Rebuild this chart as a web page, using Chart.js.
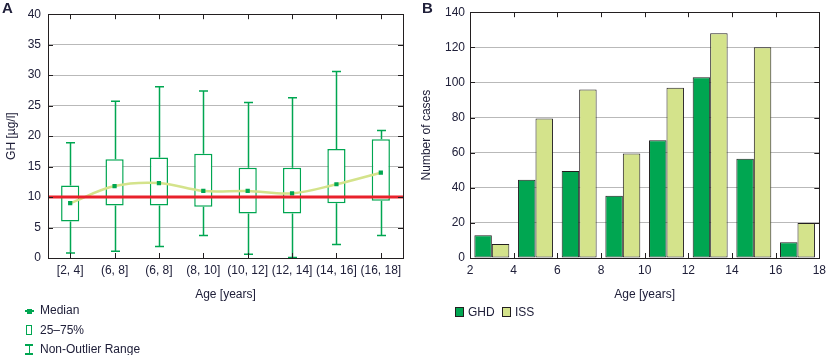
<!DOCTYPE html>
<html>
<head>
<meta charset="utf-8">
<script src="https://cdn.jsdelivr.net/npm/chart.js@4.4.1/dist/chart.umd.min.js"></script>
<style>
  html, body { margin:0; padding:0; background:#fff; }
  body { width:831px; height:355px; position:relative; overflow:hidden;
         font-family:"Liberation Sans",Arial,sans-serif; color:#20203a; }
  .wrap { position:absolute; top:0; }
  .panel { position:absolute; font-weight:bold; font-size:15px; font-family:"Liberation Sans","Arial",sans-serif; color:#20203a; }
  .leg { position:absolute; font-size:12px; line-height:12px; white-space:nowrap; }
  .leg span.t { position:absolute; }
  .mk { position:absolute; box-sizing:border-box; }
</style>
</head>
<body>
<div class="wrap" style="left:0;width:415px;height:355px"><canvas id="ca" width="415" height="355"></canvas></div>
<div class="wrap" style="left:415px;width:416px;height:355px"><canvas id="cb" width="416" height="355"></canvas></div>
<div class="panel" style="left:2px;top:-1px">A</div>
<div class="panel" style="left:422px;top:-1px">B</div>

<!-- legend A -->
<div class="leg" style="left:0;top:0;width:200px;height:355px">
  <div class="mk" style="left:25px;top:310px;width:9px;height:1.5px;background:#00a651"></div>
  <div class="mk" style="left:27px;top:308.5px;width:5px;height:5px;background:#00a651"></div>
  <span class="t" style="left:40px;top:304px">Median</span>
  <div class="mk" style="left:26px;top:325px;width:6px;height:10px;border:1.5px solid #00a651"></div>
  <span class="t" style="left:40px;top:324px">25–75%</span>
  <div class="mk" style="left:25px;top:344px;width:8px;height:1.5px;background:#00a651"></div>
  <div class="mk" style="left:28.5px;top:344px;width:1.5px;height:10px;background:#00a651"></div>
  <div class="mk" style="left:25px;top:353px;width:8px;height:1.5px;background:#00a651"></div>
  <span class="t" style="left:40px;top:343px">Non-Outlier Range</span>
</div>
<!-- legend B -->
<div class="leg" style="left:0;top:0;width:831px;height:355px">
  <div class="mk" style="left:455px;top:307px;width:9px;height:10px;background:#00a651;border:1px solid #231f20"></div>
  <span class="t" style="left:468px;top:306px">GHD</span>
  <div class="mk" style="left:502px;top:307px;width:9px;height:10px;background:#d4e38b;border:1px solid #231f20"></div>
  <span class="t" style="left:515px;top:306px">ISS</span>
</div>

<script>
// ---------- data: panel A (box plot) ----------
const ageGroups   = ["[2, 4]", "(6, 8]", "(6, 8]", "(8, 10]", "(10, 12]", "(12, 14]", "(14, 16]", "(16, 18]"];
const whiskerLow  = [0.8, 1.1, 1.9, 3.7, 0.6, 0.1, 2.2, 3.7];
const quartile1   = [6.0, 8.6, 8.6, 8.4, 7.3, 7.3, 9.0, 9.4];
const medians     = [9.0, 11.8, 12.3, 11.0, 11.0, 10.6, 12.1, 14.0];
const quartile3   = [11.9, 16.2, 16.5, 17.1, 14.8, 14.8, 17.9, 19.5];
const whiskerHigh = [18.9, 25.7, 28.1, 27.4, 25.5, 26.3, 30.6, 20.9];
const threshold   = 10;
const yTicksA     = [0, 5, 10, 15, 20, 25, 30, 35, 40];

// ---------- data: panel B (bars) ----------
const binCenters  = [3, 5, 7, 9, 11, 13, 15, 17];
const ghdCases    = [13, 44.5, 49.5, 35.5, 67, 103, 56.5, 9];
const issCases    = [8, 79.5, 96, 59.5, 97, 128, 120, 20];
const xTicksB     = [2, 4, 6, 8, 10, 12, 14, 16, 18];
const yTicksB     = [0, 20, 40, 60, 80, 100, 120, 140];

const FONT = '"Liberation Sans",Arial,sans-serif';
const TXT = '#20203a';
const GREEN = '#00a651';
const LIGHT = '#d4e38b';
const FRAME = '#231f20';
const GRID = '#b9b9b9';

Chart.defaults.font.family = FONT;
Chart.defaults.font.size = 12;
Chart.defaults.color = TXT;
Chart.defaults.animation = false;

// frame + inward ticks
const framePlugin = {
  id: 'frame',
  afterDraw(chart) {
    const {ctx, chartArea: a, scales} = chart;
    ctx.save();
    ctx.strokeStyle = FRAME;
    ctx.lineWidth = 1;
    ctx.strokeRect(Math.round(a.left) + 0.5, Math.round(a.top) + 0.5, Math.round(a.right - a.left), Math.round(a.bottom - a.top));
    const L = 5;
    ctx.beginPath();
    scales.x.ticks.forEach((t, i) => {
      const x = Math.round(scales.x.getPixelForTick(i)) + 0.5;
      ctx.moveTo(x, a.bottom); ctx.lineTo(x, a.bottom - L);
      ctx.moveTo(x, a.top); ctx.lineTo(x, a.top + L);
    });
    scales.y.ticks.forEach((t, i) => {
      const y = Math.round(scales.y.getPixelForTick(i)) + 0.5;
      ctx.moveTo(a.left, y); ctx.lineTo(a.left + L, y);
      ctx.moveTo(a.right, y); ctx.lineTo(a.right - L, y);
    });
    ctx.stroke();
    ctx.restore();
  }
};

// whiskers + threshold line for panel A
const boxPlugin = {
  id: 'boxExtras',
  beforeDatasetsDraw(chart) {
    const {ctx, scales: {x, y}} = chart;
    ctx.save();
    ctx.strokeStyle = GREEN;
    ctx.lineWidth = 1.5;
    ctx.beginPath();
    ageGroups.forEach((_, i) => {
      const cx = Math.round(x.getPixelForValue(i)) + 0.5;
      const lo = y.getPixelForValue(whiskerLow[i]);
      const hi = y.getPixelForValue(whiskerHigh[i]);
      const q1 = y.getPixelForValue(quartile1[i]);
      const q3 = y.getPixelForValue(quartile3[i]);
      ctx.moveTo(cx, lo); ctx.lineTo(cx, q1);
      ctx.moveTo(cx, q3); ctx.lineTo(cx, hi);
      ctx.moveTo(cx - 4.5, lo); ctx.lineTo(cx + 4.5, lo);
      ctx.moveTo(cx - 4.5, hi); ctx.lineTo(cx + 4.5, hi);
    });
    ctx.stroke();
    ctx.restore();
  },
  afterDatasetsDraw(chart) {
    const {ctx, chartArea: a, scales: {y}} = chart;
    const yy = y.getPixelForValue(threshold);
    ctx.save();
    ctx.strokeStyle = '#e8212b';
    ctx.lineWidth = 3;
    ctx.beginPath();
    ctx.moveTo(a.left, yy); ctx.lineTo(a.right, yy);
    ctx.stroke();
    ctx.restore();
  }
};

const gridColor = (ctx, max) => (ctx.tick && (ctx.tick.value === 0 || ctx.tick.value === max)) ? 'rgba(0,0,0,0)' : GRID;

new Chart(document.getElementById('ca'), {
  type: 'bar',
  data: {
    labels: ageGroups,
    datasets: [
      {
        type: 'line',
        label: 'Median',
        data: medians,
        borderColor: LIGHT,
        borderWidth: 2.5,
        tension: 0.35,
        pointStyle: 'rect',
        pointRadius: 3,
        pointBackgroundColor: GREEN,
        pointBorderColor: GREEN,
        pointBorderWidth: 0,
      },
      {
        label: '25–75%',
        data: quartile1.map((q, i) => [q, quartile3[i]]),
        backgroundColor: '#ffffff',
        borderColor: GREEN,
        borderWidth: 1.5,
        borderSkipped: false,
        categoryPercentage: 1,
        barPercentage: 0.41,
      }
    ]
  },
  options: {
    responsive: false,
    layout: { padding: { left: 0, top: 6, right: 12, bottom: 47 } },
    plugins: { legend: { display: false }, tooltip: { enabled: false } },
    scales: {
      x: {
        offset: true,
        grid: { display: false, drawTicks: false },
        border: { display: false },
        ticks: { padding: 5, maxRotation: 0, autoSkip: false, color: TXT },
        title: { display: true, text: 'Age [years]', padding: { top: 0, bottom: 6 }, color: TXT },
        afterFit(s) { s.height = 50; }
      },
      y: {
        min: 0, max: 40,
        afterBuildTicks(s) { s.ticks = yTicksA.map(v => ({ value: v })); },
        grid: { color: c => gridColor(c, 40), drawTicks: false },
        border: { display: false },
        ticks: { padding: 7, color: TXT },
        title: { display: true, text: 'GH [µg/l]', padding: { top: 4, bottom: 0 }, color: TXT },
        afterFit(s) { s.width = 48; }
      }
    }
  },
  plugins: [boxPlugin, framePlugin]
});

new Chart(document.getElementById('cb'), {
  type: 'bar',
  data: {
    datasets: [
      {
        label: 'GHD',
        data: binCenters.map((c, i) => ({ x: c, y: ghdCases[i] })),
        backgroundColor: GREEN,
        borderColor: FRAME,
        borderWidth: 1,
        borderSkipped: false,
        categoryPercentage: 0.8,
        barPercentage: 1,
      },
      {
        label: 'ISS',
        data: binCenters.map((c, i) => ({ x: c, y: issCases[i] })),
        backgroundColor: LIGHT,
        borderColor: FRAME,
        borderWidth: 1,
        borderSkipped: false,
        categoryPercentage: 0.8,
        barPercentage: 1,
      }
    ]
  },
  options: {
    responsive: false,
    layout: { padding: { left: 0, top: 6, right: 8, bottom: 47 } },
    plugins: { legend: { display: false }, tooltip: { enabled: false } },
    scales: {
      x: {
        type: 'linear',
        min: 2, max: 18,
        offset: false,
        afterBuildTicks(s) { s.ticks = xTicksB.map(v => ({ value: v })); },
        grid: { display: false, drawTicks: false, offset: false },
        border: { display: false },
        ticks: { padding: 5, maxRotation: 0, autoSkip: false, color: TXT },
        title: { display: true, text: 'Age [years]', padding: { top: 0, bottom: 6 }, color: TXT },
        afterFit(s) { s.height = 50; }
      },
      y: {
        min: 0, max: 140,
        afterBuildTicks(s) { s.ticks = yTicksB.map(v => ({ value: v })); },
        grid: { color: c => gridColor(c, 140), drawTicks: false },
        border: { display: false },
        ticks: { padding: 5, color: TXT },
        title: { display: true, text: 'Number of cases', padding: { top: 4, bottom: 0 }, color: TXT },
        afterFit(s) { s.width = 55; }
      }
    }
  },
  plugins: [framePlugin]
});
</script>
</body>
</html>
